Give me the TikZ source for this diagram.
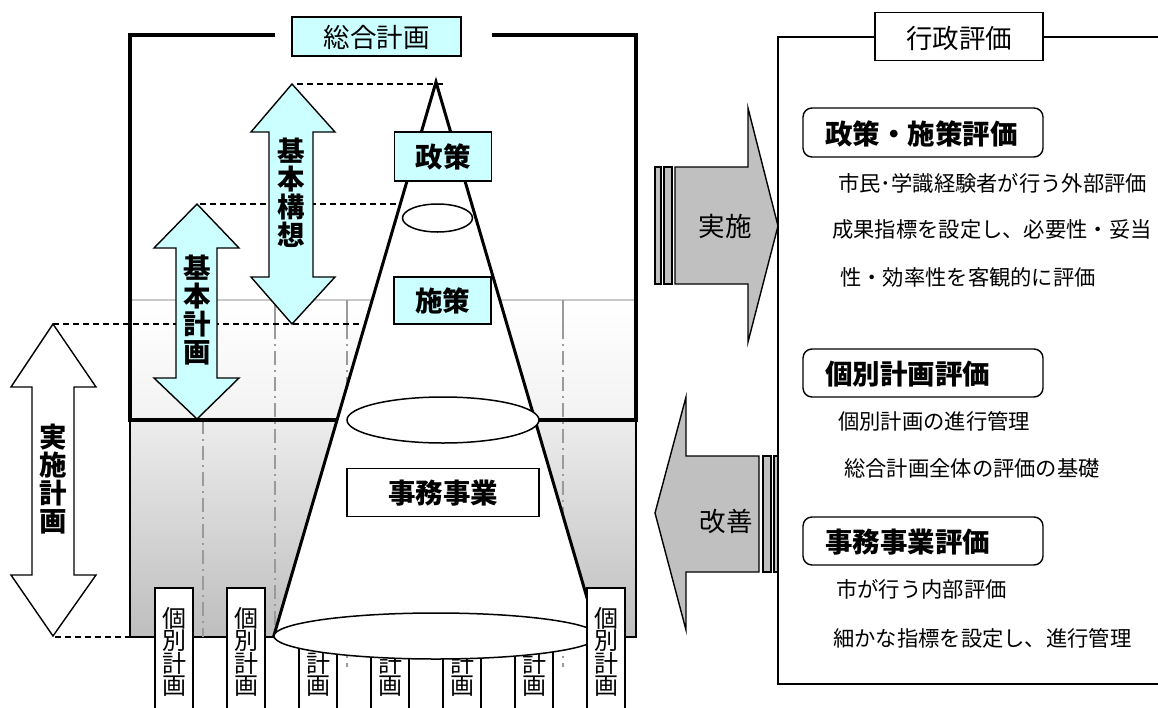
\documentclass[tikz,border=0pt]{standalone}
\usepackage{fontspec}
\setmainfont{Noto Sans CJK JP}
\definecolor{lcyan}{HTML}{CCFFFF}
\definecolor{agray}{HTML}{C0C0C0}
\definecolor{gridc}{HTML}{9A9A9A}
\definecolor{hlinec}{HTML}{C8C8C8}
\definecolor{shA}{HTML}{F2F2F2}
\definecolor{shB}{HTML}{ECECEC}
\definecolor{shC}{HTML}{BEBEBE}
\begin{document}
\begin{tikzpicture}[x=1pt,y=-1pt,
  lbl/.style={inner sep=0pt,font=\fontsize{26.5}{26.5}\selectfont},
  blbl/.style={inner sep=0pt,font=\bfseries\fontsize{27.5}{27.5}\selectfont},
  vbold/.style={inner sep=0pt,align=center,font=\bfseries\fontsize{27.5}{28}\selectfont},
  vreg/.style={inner sep=0pt,align=center,font=\fontsize{24}{22.5}\selectfont},
  desc/.style={anchor=west,inner sep=0pt,font=\fontsize{21.3}{21.3}\selectfont},
  evtitle/.style={anchor=west,inner sep=0pt,font=\bfseries\fontsize{27.5}{27.5}\selectfont},
  cyanbox/.style={draw,line width=1.6pt,fill=lcyan,inner sep=0pt},
  whitebox/.style={draw,line width=1.6pt,fill=white,inner sep=0pt},
  planbox/.style={draw,line width=1.3pt,fill=white},
  evalbox/.style={draw,line width=1.4pt,rounded corners=9pt},
  blockarrow/.style={draw,line width=1.4pt,line join=miter},
  gridline/.style={gridc,line width=1.5pt,dash pattern=on 14pt off 5pt on 2pt off 5pt},
  guide/.style={black,line width=1.2pt,dash pattern=on 6pt off 4pt},
  frameline/.style={line width=4pt},
  thinframe/.style={line width=1.3pt},
  coneside/.style={line width=3pt,line cap=round},
]
\useasboundingbox (0,0) rectangle (1158,707);
\fill[white] (0,0) rectangle (1158,707);

% ---------- shaded region ----------
\shade[top color=white,bottom color=shA] (130,300) rectangle (636,420);
\shade[top color=shB,bottom color=shC] (130,420) rectangle (636,637);
\draw[hlinec,line width=1.5pt] (130,300) -- (636,300);
\draw[thinframe] (130,420) -- (130,637) -- (636,637) -- (636,420);

% ---------- grid lines ----------
\foreach \gx in {203,275,347,563}{
  \draw[gridc,line width=1.5pt] (\gx,300) -- (\gx,325);
}
\draw[gridline] (203,420) -- (203,637);
\draw[gridline] (275,325) -- (275,637);
\draw[gridline] (347,325) -- (347,667);
\draw[gridline] (563,325) -- (563,667);

% ---------- guide dashed lines ----------
\draw[guide] (297,84) -- (446,84);
\draw[guide] (200,204) -- (400,204);
\draw[guide] (53,324) -- (362,324);
\draw[guide] (55,637) -- (130,637);

% ---------- thick frame ----------
\draw[frameline] (275,35) -- (130,35) -- (130,420) -- (636,420) -- (636,35) -- (492,35);

% ---------- individual plan boxes behind the cone ----------
\foreach \i/\bx in {3/299,4/371,5/443,6/515}{
  \draw[planbox] (\bx,588) rectangle ++(38,124);
  \node[vreg] (kobetsu\i) at (\bx+19,652) {個\\別\\計\\画};
}

% ---------- cone ----------
\fill[white] (436,82) -- (273.5,637) -- (598.5,637) -- cycle;
\draw[coneside] (273.5,637) -- (436,82) -- (598.5,637);
\draw[line width=1.5pt,fill=white] (436,636) ellipse [x radius=162,y radius=23];
\draw[line width=1.5pt,fill=white] (443,420) ellipse [x radius=96,y radius=23];
\draw[line width=1.5pt,fill=white] (437.5,218) ellipse [x radius=35,y radius=14];

% ---------- individual plan boxes in front ----------
\foreach \i/\bx in {1/155,2/227,7/587}{
  \draw[planbox] (\bx,588) rectangle ++(38,124);
  \node[vreg] (kobetsu\i) at (\bx+19,652) {個\\別\\計\\画};
}

% ---------- block arrows ----------
\draw[blockarrow,fill=lcyan] (292,84) -- (335,132) -- (313,132) -- (313,277) -- (335,277) -- (292,324)
  -- (251,277) -- (269,277) -- (269,132) -- (251,132) -- cycle;
\node[vbold] (kihonkoso) at (291,193) {基\\本\\構\\想};
\draw[blockarrow,fill=lcyan] (197,204) -- (239,248) -- (217,248) -- (217,378) -- (239,378) -- (197,419)
  -- (154,378) -- (176,378) -- (176,248) -- (154,248) -- cycle;
\node[vbold] (kihonkeikaku) at (197,310) {基\\本\\計\\画};
\draw[blockarrow,fill=white] (53,324) -- (96,387) -- (74,387) -- (74,575) -- (96,575) -- (53,636)
  -- (11,575) -- (32,575) -- (32,387) -- (11,387) -- cycle;
\node[vbold] (jisshikeikaku) at (53,479) {実\\施\\計\\画};

% ---------- labels in left part ----------
\node[cyanbox,minimum width=169pt,minimum height=39pt] (sogo) at (376.5,36.5) {};
\node[lbl] (sogotext) at (376.5,37) {総合計画};
\node[cyanbox,minimum width=97pt,minimum height=49pt] (seisaku) at (443,156.5) {};
\node[blbl] (seisakutext) at (443,157) {政策};
\node[cyanbox,minimum width=97pt,minimum height=47pt] (shisaku) at (442.5,300.5) {};
\node[blbl] (shisakutext) at (442.5,301) {施策};
\node[whitebox,minimum width=192pt,minimum height=48pt] (jimu) at (443,492.5) {};
\node[blbl] (jimutext) at (443,493) {事務事業};

% ---------- arrows to / from evaluation ----------
\draw[thinframe,fill=agray] (655,167) rectangle (661,284);
\draw[thinframe,fill=agray] (664,167) rectangle (672,284);
\draw[blockarrow,fill=agray] (675,167) -- (748,167) -- (748,108) -- (778,226) -- (748,342)
  -- (748,284) -- (675,284) -- cycle;
\node[lbl] (jisshi) at (725,226) {実施};

\draw[blockarrow,fill=agray] (759,456) -- (686,456) -- (686,397) -- (655,513) -- (686,630)
  -- (686,572) -- (759,572) -- cycle;
\draw[thinframe,fill=agray] (763,456) rectangle (771,572);
\draw[thinframe,fill=agray] (774,456) rectangle (778,572);
\node[lbl] (kaizen) at (726,521) {改善};

% ---------- evaluation frame ----------
\draw[thinframe] (875,37) -- (778,37) -- (778,684) -- (1160,684);
\draw[thinframe] (1043,37) -- (1160,37);
\node[whitebox,line width=1.4pt,minimum width=168pt,minimum height=48pt] (gyosei) at (959,36.5) {};
\node[lbl] (gyoseitext) at (959,38) {行政評価};

\draw[evalbox] (803,108) rectangle (1043,157);
\node[evtitle] (ev1) at (825,134) {政策・施策評価};
\node[desc] (d11) at (838,183.5) {市民･学識経験者が行う外部評価};
\node[desc] (d12) at (832,229) {成果指標を設定し、必要性・妥当};
\node[desc] (d13) at (840,277) {性・効率性を客観的に評価};

\draw[evalbox] (803,349) rectangle (1043,397);
\node[evtitle] (ev2) at (825,374) {個別計画評価};
\node[desc] (d21) at (838,421) {個別計画の進行管理};
\node[desc] (d22) at (844,468) {総合計画全体の評価の基礎};

\draw[evalbox] (803,517) rectangle (1043,565);
\node[evtitle] (ev3) at (825,542) {事務事業評価};
\node[desc] (d31) at (836,589) {市が行う内部評価};
\node[desc] (d32) at (833,638) {細かな指標を設定し、進行管理};
\end{tikzpicture}
\end{document}
